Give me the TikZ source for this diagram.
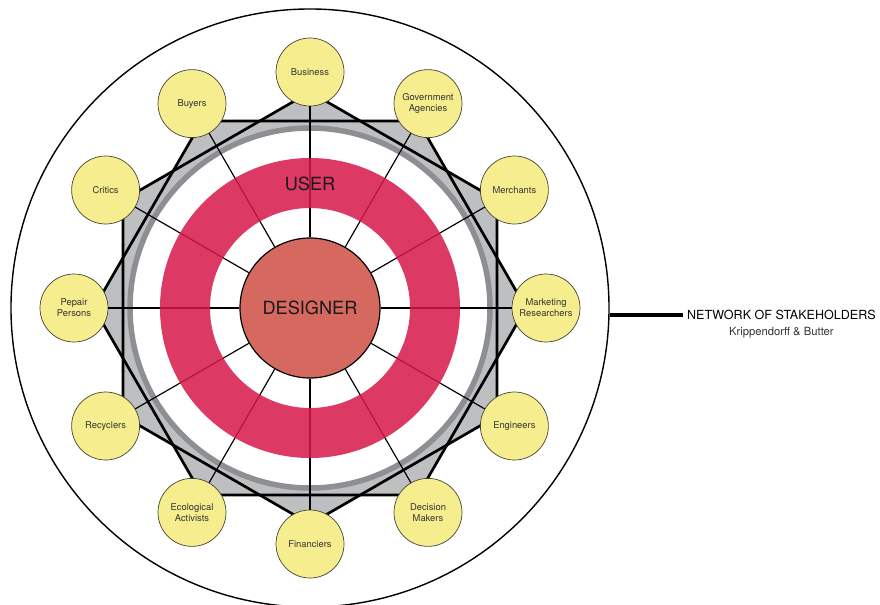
\documentclass[tikz,border=0pt]{standalone}
\usepackage{fontspec}
\setmainfont{TeX Gyre Heros}
\usetikzlibrary{positioning, shapes.geometric}

\definecolor{userred}{RGB}{214,23,73}
\definecolor{designred}{RGB}{213,105,95}
\definecolor{stakeyellow}{RGB}{246,238,142}
\definecolor{hexgray}{RGB}{190,191,193}
\definecolor{ringgray}{RGB}{142,143,147}
\definecolor{nodeedge}{RGB}{70,70,55}

\begin{document}
\begin{tikzpicture}[
		x=0.03cm, y=0.03cm,
		every node/.style={font=\fontsize{8}{9.6}\selectfont, text=black!80},
		stake/.style={draw=nodeedge, circle, fill=stakeyellow, minimum size=2.04cm, inner sep=0pt, align=center, line width=0.6pt},
		hex/.style={regular polygon, regular polygon sides=6, minimum size=12.96cm, inner sep=0pt, outer sep=0pt},
		hexline/.style={line width=2.3pt, black, line join=miter},
		spoke/.style={line width=1pt, black},
		big/.style={font=\fontsize{15.5}{18}\selectfont, text=black!90}
		]
		\useasboundingbox (-310,-296) rectangle (570,308);
		% outer network
		\node[draw, circle, line width=1.2pt, minimum size=17.94cm, inner sep=0pt, fill=white] (net) at (0,0) {};
		% gray star behind the ring
		\node[hex, fill=hexgray] (hexflat) at (0,0) {};
		\node[hex, fill=hexgray, rotate=30] (hexpointy) at (0,0) {};
		\fill[white] (0,0) circle (180);
		\draw[ringgray, line width=0.165cm] (0,0) circle (180);
		\draw[hexline] (hexflat.corner 1) \foreach \i in {2,...,6}{ -- (hexflat.corner \i)} -- cycle;
		\draw[hexline] (hexpointy.corner 1) \foreach \i in {2,...,6}{ -- (hexpointy.corner \i)} -- cycle;
		
		% designer in the middle
		\node[big, circle, draw, line width=1pt, fill=designred, minimum size=4.2cm, inner sep=0pt] (designer) at (0,0) {DESIGNER};
		
		% stakeholders
		\node[stake] (business) at (90:236) {Business};
		\node[stake] (agencies) at (60:236) {Government\\Agencies};
		\node[stake] (merchants) at (30:236) {Merchants};
		\node[stake] (marketing) at (0:236) {Marketing\\Researchers};
		\node[stake] (engineers) at (-30:236) {Engineers};
		\node[stake] (deciders) at (-60:236) {Decision\\Makers};
		\node[stake] (financiers) at (-90:236) {Financiers};
		\node[stake] (activists) at (-120:236) {Ecological\\Activists};
		\node[stake] (recyclers) at (-150:236) {Recyclers};
		\node[stake] (repair) at (180:236) {Pepair\\Persons};
		\node[stake] (critics) at (150:236) {Critics};
		\node[stake] (buyers) at (120:236) {Buyers};
		
		% spokes
		\draw[spoke] (designer) -- (business);
		\draw[spoke] (designer) -- (agencies);
		\draw[spoke] (designer) -- (merchants);
		\draw[spoke] (designer) -- (marketing);
		\draw[spoke] (designer) -- (engineers);
		\draw[spoke] (designer) -- (deciders);
		\draw[spoke] (designer) -- (financiers);
		\draw[spoke] (designer) -- (activists);
		\draw[spoke] (designer) -- (recyclers);
		\draw[spoke] (designer) -- (repair);
		\draw[spoke] (designer) -- (critics);
		\draw[spoke] (designer) -- (buyers);
		
		% user ring
		\draw[userred, draw opacity=0.85, line width=1.5cm] (designer.center) circle (125);
		\node[big] (user) at (0,124) {USER};
		
		% title
		\node[anchor=west, font=\fontsize{10.7}{12}\selectfont, text=black] (title) at (373,-7) {NETWORK OF STAKEHOLDERS};
		\node[below=-1pt of title, font=\fontsize{9.6}{11}\selectfont] (source) {Krippendorff \& Butter};
		\draw[line width=2.6pt] (title.west -| net.east) -- (title.west);
		
	\end{tikzpicture}
\end{document}
